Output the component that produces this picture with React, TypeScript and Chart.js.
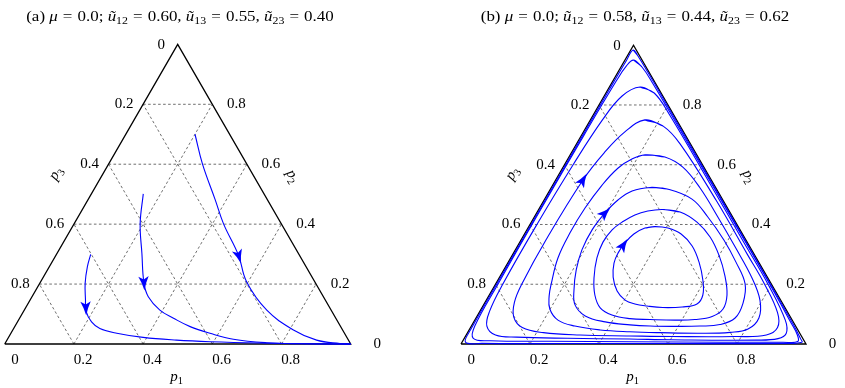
import React, { useEffect, useRef } from "react";
import { Chart, registerables } from "chart.js";

Chart.register(...registerables);

// ---------------- data ----------------
const GRID_VALUES = [0.2, 0.4, 0.6, 0.8];
const TICK_LABELS = ["0.2", "0.4", "0.6", "0.8"];
const ZERO_LABEL = "0";
const AXIS_SYMBOL = "p";
const AXIS_INDICES = ["1", "2", "3"];
const U_INDICES = ["12", "13", "23"];
const TITLE_A_VALUES = ["0.0", "0.60", "0.55", "0.40"];
const TITLE_B_VALUES = ["0.0", "0.58", "0.44", "0.62"];

// panel (a): trajectories, points are [p1, p2] (p3 = 1 - p1 - p2)
const A_TRAJ_1 = [[0.200, 0.700], [0.271, 0.601], [0.368, 0.481], [0.432, 0.401], [0.527, 0.297], [0.595, 0.208], [0.701, 0.113], [0.811, 0.047], [0.895, 0.013], [0.968, 0.0017], [1.0, 0.0]];
const A_TRAJ_2 = [[0.150, 0.501], [0.191, 0.401], [0.245, 0.303], [0.301, 0.203], [0.336, 0.158], [0.392, 0.113], [0.445, 0.086], [0.507, 0.058], [0.575, 0.036], [0.653, 0.016], [0.755, 0.0043], [0.853, 0.001], [1.0, 0.0]];
const A_TRAJ_3 = [[0.099, 0.299], [0.110, 0.258], [0.131, 0.203], [0.160, 0.147], [0.180, 0.110], [0.214, 0.074], [0.249, 0.052], [0.306, 0.036], [0.389, 0.022], [0.490, 0.013], [0.590, 0.0077], [0.736, 0.0033], [0.882, 0.001], [1.0, 0.0]];
// arrows: [trajectory index, p1, p2]
const A_ARROWS = [[0, 0.526, 0.291], [1, 0.304, 0.204], [2, 0.175, 0.12]];

// panel (b): closed orbits, [p1, p2]
const B_ORBIT_0 = [[0.007, 0.984], [0.03, 0.965], [0.15, 0.847], [0.45, 0.547], [0.75, 0.247], [0.93, 0.066], [0.975, 0.018], [0.985, 0.006], [0.93, 0.002], [0.6, 0.0015], [0.3, 0.0015], [0.06, 0.002], [0.01, 0.006], [0.004, 0.05], [0.0035, 0.3], [0.0035, 0.6], [0.004, 0.85], [0.005, 0.95]];
const B_ORBIT_1 = [[0.025, 0.950], [0.06, 0.928], [0.12, 0.872], [0.35, 0.644], [0.6, 0.395], [0.795, 0.2], [0.92, 0.072], [0.96, 0.03], [0.972, 0.008], [0.93, 0.006], [0.75, 0.006], [0.49, 0.0077], [0.25, 0.009], [0.08, 0.011], [0.026, 0.019], [0.01, 0.06], [0.007, 0.2], [0.006, 0.45], [0.007, 0.7], [0.01, 0.88], [0.014, 0.93]];
const B_ORBIT_2 = [[0.089, 0.860], [0.14, 0.84], [0.22, 0.768], [0.45, 0.54], [0.65, 0.34], [0.79, 0.2], [0.9, 0.08], [0.925, 0.035], [0.91, 0.018], [0.85, 0.013], [0.6, 0.014], [0.48, 0.0167], [0.3, 0.019], [0.15, 0.023], [0.085, 0.03], [0.045, 0.06], [0.028, 0.11], [0.021, 0.2], [0.02, 0.4], [0.025, 0.6], [0.035, 0.75], [0.052, 0.83]];
const B_ORBIT_3 = [[0.158, 0.750], [0.22, 0.73], [0.30, 0.67], [0.5, 0.48], [0.68, 0.30], [0.78, 0.2], [0.865, 0.105], [0.89, 0.055], [0.87, 0.03], [0.78, 0.025], [0.6, 0.025], [0.476, 0.027], [0.33, 0.03], [0.22, 0.038], [0.15, 0.055], [0.108, 0.09], [0.085, 0.14], [0.076, 0.2], [0.072, 0.35], [0.079, 0.549], [0.095, 0.64], [0.12, 0.71]];
const B_ORBIT_4 = [[0.217, 0.633], [0.278, 0.626], [0.347, 0.592], [0.432, 0.522], [0.532, 0.425], [0.636, 0.321], [0.733, 0.221], [0.793, 0.147], [0.820, 0.087], [0.807, 0.050], [0.761, 0.039], [0.675, 0.036], [0.558, 0.038], [0.469, 0.041], [0.380, 0.047], [0.300, 0.060], [0.241, 0.080], [0.199, 0.117], [0.175, 0.161], [0.161, 0.201], [0.137, 0.288], [0.130, 0.372], [0.132, 0.455], [0.143, 0.532], [0.161, 0.589], [0.186, 0.619]];
const B_ORBIT_5 = [[0.286, 0.524], [0.338, 0.519], [0.427, 0.485], [0.503, 0.425], [0.588, 0.348], [0.660, 0.274], [0.723, 0.201], [0.749, 0.137], [0.751, 0.087], [0.718, 0.065], [0.663, 0.060], [0.591, 0.059], [0.518, 0.060], [0.458, 0.064], [0.381, 0.074], [0.313, 0.094], [0.265, 0.131], [0.237, 0.181], [0.210, 0.248], [0.193, 0.315], [0.189, 0.382], [0.198, 0.438], [0.214, 0.482], [0.240, 0.512]];
const B_ORBIT_6 = [[0.360, 0.450], [0.414, 0.442], [0.480, 0.408], [0.543, 0.358], [0.601, 0.295], [0.651, 0.228], [0.689, 0.164], [0.701, 0.117], [0.682, 0.092], [0.637, 0.082], [0.580, 0.080], [0.507, 0.082], [0.447, 0.085], [0.389, 0.097], [0.343, 0.121], [0.306, 0.164], [0.275, 0.221], [0.250, 0.288], [0.241, 0.341], [0.247, 0.382], [0.263, 0.408], [0.288, 0.432], [0.319, 0.445]];
const B_ORBIT_7 = [[0.339, 0.388], [0.366, 0.393], [0.406, 0.388], [0.454, 0.368], [0.506, 0.328], [0.553, 0.274], [0.594, 0.214], [0.619, 0.164], [0.617, 0.134], [0.579, 0.124], [0.524, 0.122], [0.476, 0.127], [0.437, 0.134], [0.402, 0.147], [0.364, 0.177], [0.329, 0.224], [0.308, 0.271], [0.303, 0.305], [0.306, 0.338], [0.317, 0.368]];
const B_ARROWS = [[3, 0.079, 0.549], [5, 0.207, 0.432], [7, 0.311, 0.328]];

// ---------------- rendering helpers ----------------
const SQ = Math.sqrt(3) / 2;
const xy = (p: number[]) => ({ x: p[0] + p[1] / 2, y: p[1] * SQ });
const BLUE = "#0000ff";
const FONT = '"Liberation Serif", "Times New Roman", serif';
const FS = 15;
const TITLE_STRETCH = 1.13;

type Seg = [string, string];
type Panel = {
  letter: string;
  values: string[];
  curves: number[][][];
  closed: boolean;
  arrows: number[][];
  width: number;
  originX: number;
  side: number;
  titleDx: number;
};

const PANEL_A: Panel = {
  letter: "a", values: TITLE_A_VALUES, curves: [A_TRAJ_1, A_TRAJ_2, A_TRAJ_3], closed: false,
  arrows: A_ARROWS, width: 422, originX: 4.7, side: 346, titleDx: 2.3,
};
const PANEL_B: Panel = {
  letter: "b", values: TITLE_B_VALUES,
  curves: [B_ORBIT_0, B_ORBIT_1, B_ORBIT_2, B_ORBIT_3, B_ORBIT_4, B_ORBIT_5, B_ORBIT_6, B_ORBIT_7], closed: true,
  arrows: B_ARROWS, width: 423, originX: 39, side: 345, titleDx: 1.5,
};

function segFont(st: string) {
  if (st === "it") return `italic ${FS}px ${FONT}`;
  if (st === "sub") return `${FS * 0.7}px ${FONT}`;
  return `${FS}px ${FONT}`;
}
const EQ_PAD = FS * 0.3;
function segWidth(ctx: CanvasRenderingContext2D, st: string, t: string) {
  ctx.font = segFont(st);
  const w = ctx.measureText(t).width;
  return st === "eq" ? w + 2 * EQ_PAD : w;
}
function richWidth(ctx: CanvasRenderingContext2D, segs: Seg[]) {
  let w = 0;
  for (const [st, t] of segs) w += segWidth(ctx, st, t);
  return w;
}
function drawRich(ctx: CanvasRenderingContext2D, segs: Seg[], x: number, base: number) {
  ctx.textAlign = "left";
  ctx.textBaseline = "alphabetic";
  for (const [st, t] of segs) {
    const w = segWidth(ctx, st, t);
    ctx.font = segFont(st);
    const dx = st === "eq" ? EQ_PAD : 0;
    ctx.fillText(t, x + dx, base + (st === "sub" ? FS * 0.22 : 0));
    x += w;
  }
}
function titleSegs(letter: string, v: string[]): Seg[] {
  return [
    ["rm", `(${letter}) `], ["it", "\u03bc"], ["eq", "="], ["rm", `${v[0]}; `],
    ["it", "\u0169"], ["sub", U_INDICES[0]], ["eq", "="], ["rm", `${v[1]}, `],
    ["it", "\u0169"], ["sub", U_INDICES[1]], ["eq", "="], ["rm", `${v[2]}, `],
    ["it", "\u0169"], ["sub", U_INDICES[2]], ["eq", "="], ["rm", `${v[3]}`],
  ];
}
function drawArrow(ctx: CanvasRenderingContext2D, x: number, y: number, ang: number) {
  ctx.save();
  ctx.translate(x, y);
  ctx.rotate(ang);
  ctx.fillStyle = BLUE;
  ctx.beginPath();
  ctx.moveTo(7.5, 0);
  ctx.quadraticCurveTo(0, -1.8, -6.5, -5.2);
  ctx.lineTo(-3.5, 0);
  ctx.lineTo(-6.5, 5.2);
  ctx.quadraticCurveTo(0, 1.8, 7.5, 0);
  ctx.closePath();
  ctx.fill();
  ctx.restore();
}

function makeChart(canvas: HTMLCanvasElement, panel: Panel) {
  const datasets: any[] = [];
  panel.curves.forEach((c) => {
    const pts = panel.closed ? [...c, c[0], c[1]] : c;
    datasets.push({
      data: pts.map(xy), showLine: true, borderColor: BLUE, borderWidth: 1.1,
      pointRadius: 0, tension: 0.4, fill: false, order: 0,
    });
  });
  datasets.push({
    data: [[0, 0], [1, 0], [0, 1], [0, 0]].map(xy), showLine: true, borderColor: "#000",
    borderWidth: 1.3, pointRadius: 0, tension: 0, fill: false, order: 1,
  });
  const gridStyle = { showLine: true, borderColor: "#4a4a4a", borderWidth: 0.8, borderDash: [2.6, 2.4], pointRadius: 0, tension: 0, fill: false, order: 2 };
  for (const v of GRID_VALUES) {
    datasets.push({ ...gridStyle, data: [[0, v], [1 - v, v]].map(xy) });
    datasets.push({ ...gridStyle, data: [[v, 0], [v, 1 - v]].map(xy) });
    datasets.push({ ...gridStyle, data: [[1 - v, 0], [0, 1 - v]].map(xy) });
  }

  const textPlugin = {
    id: "ternaryText",
    afterDatasetsDraw(chart: any) {
      const ctx: CanvasRenderingContext2D = chart.ctx;
      const xs = chart.scales.x, ys = chart.scales.y;
      const P = (p: number[]) => ({ x: xs.getPixelForValue(p[0] + p[1] / 2), y: ys.getPixelForValue(p[1] * SQ) });
      for (const a of panel.arrows) {
        const c = panel.curves[a[0]];
        const pts = (panel.closed ? [...c, c[0]] : c).map(P);
        const t = P([a[1], a[2]]);
        let best: any = null;
        for (let i = 0; i < pts.length - 1; i++) {
          const A = pts[i], B = pts[i + 1];
          const dx = B.x - A.x, dy = B.y - A.y;
          const L2 = dx * dx + dy * dy || 1;
          let u = ((t.x - A.x) * dx + (t.y - A.y) * dy) / L2;
          u = Math.max(0, Math.min(1, u));
          const qx = A.x + u * dx, qy = A.y + u * dy;
          const d = (qx - t.x) ** 2 + (qy - t.y) ** 2;
          if (!best || d < best.d) best = { d, x: qx, y: qy, ang: Math.atan2(dy, dx) };
        }
        if (best) drawArrow(ctx, best.x, best.y, best.ang);
      }
    },
    afterDraw(chart: any) {
      const ctx: CanvasRenderingContext2D = chart.ctx;
      const xs = chart.scales.x, ys = chart.scales.y;
      const P = (p: number[]) => ({ x: xs.getPixelForValue(p[0] + p[1] / 2), y: ys.getPixelForValue(p[1] * SQ) });
      const BL = P([0, 0]), BR = P([1, 0]), T = P([0, 1]);
      ctx.save();
      ctx.fillStyle = "#000";
      // title (slightly widened to mimic the wide math typeface)
      const segs = titleSegs(panel.letter, panel.values);
      const w = richWidth(ctx, segs);
      ctx.save();
      ctx.translate((BL.x + BR.x) / 2 + panel.titleDx, 21);
      ctx.scale(TITLE_STRETCH, 1);
      drawRich(ctx, segs, -w / 2, 0);
      ctx.restore();
      // tick labels
      ctx.font = `${FS}px ${FONT}`;
      ctx.textAlign = "center";
      ctx.textBaseline = "middle";
      GRID_VALUES.forEach((v, i) => {
        const b = P([v, 0]);
        ctx.fillText(TICK_LABELS[i], b.x + 9.2, b.y + 16);
        const l = P([0, 1 - v]);
        ctx.fillText(TICK_LABELS[i], l.x - 19, l.y);
        const r = P([1 - v, v]);
        ctx.fillText(TICK_LABELS[i], r.x + 24, r.y);
      });
      ctx.fillText(ZERO_LABEL, BL.x + 10.3, BL.y + 16);
      ctx.fillText(ZERO_LABEL, T.x - 16.5, T.y + 0.5);
      ctx.fillText(ZERO_LABEL, BR.x + 26.5, BR.y);
      // axis names
      const axis = (idx: number, cx: number, cy: number, ang: number) => {
        const s: Seg[] = [["it", AXIS_SYMBOL], ["sub", AXIS_INDICES[idx]]];
        const ww = richWidth(ctx, s);
        ctx.save();
        ctx.translate(cx, cy);
        ctx.rotate(ang);
        drawRich(ctx, s, -ww / 2, 3);
        ctx.restore();
      };
      axis(0, (BL.x + BR.x) / 2 - 1, BL.y + 34, 0);
      axis(2, BL.x + 52, 174, -Math.PI / 3);
      axis(1, BL.x + 287, 176.7, Math.PI / 3);
      ctx.restore();
    },
  };

  const s = panel.side;
  return new Chart(canvas, {
    type: "scatter",
    data: { datasets },
    options: {
      responsive: false,
      maintainAspectRatio: false,
      animation: false,
      devicePixelRatio: 1,
      events: [],
      layout: { padding: 0 },
      plugins: { legend: { display: false }, tooltip: { enabled: false }, title: { display: false } },
      scales: {
        x: { type: "linear", display: false, min: -panel.originX / s, max: (panel.width - panel.originX) / s },
        y: { type: "linear", display: false, min: -44 / s, max: 344 / s },
      },
    } as any,
    plugins: [textPlugin],
  });
}

export default function App() {
  const refA = useRef<HTMLCanvasElement>(null);
  const refB = useRef<HTMLCanvasElement>(null);
  useEffect(() => {
    const a = makeChart(refA.current!, PANEL_A);
    const b = makeChart(refB.current!, PANEL_B);
    return () => {
      a.destroy();
      b.destroy();
    };
  }, []);
  return (
    <div style={{ position: "fixed", left: 0, top: 0, width: 845, height: 388, background: "#fff" }}>
      <canvas ref={refA} width={422} height={388} style={{ position: "absolute", left: 0, top: 0, width: 422, height: 388 }} />
      <canvas ref={refB} width={423} height={388} style={{ position: "absolute", left: 422, top: 0, width: 423, height: 388 }} />
    </div>
  );
}
